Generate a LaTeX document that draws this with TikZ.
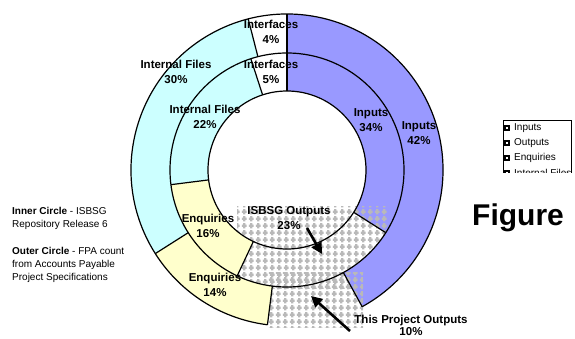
\documentclass[tikz,border=0pt]{standalone}
\usepackage{fontspec}
\setsansfont{Liberation Sans}
\RequirePackage{xcolor}
\definecolor{inputblue}{RGB}{153,153,255}
\definecolor{filecyan}{RGB}{204,255,255}
\definecolor{enqyellow}{RGB}{255,255,204}
\tikzset{every picture/.style={/utils/exec={\sffamily}}}
\usetikzlibrary{calc}
\usetikzlibrary{positioning}
\usetikzlibrary{arrows.meta,patterns}

\pgfdeclarepatternformonly{plusgrid}{\pgfqpoint{0pt}{0pt}}{\pgfqpoint{6.7pt}{6.7pt}}{\pgfqpoint{6.7pt}{6.7pt}}{%
  \pgfpathrectangle{\pgfqpoint{2.1pt}{0.6pt}}{\pgfqpoint{2.5pt}{5.5pt}}%
  \pgfpathrectangle{\pgfqpoint{0.85pt}{2.1pt}}{\pgfqpoint{5pt}{2.5pt}}%
  \pgfusepath{fill}}

\tikzset{
  part/.style={line width=1.2pt},
  inputs/.style={fill=inputblue},
  files/.style={fill=filecyan},
  enquiries/.style={fill=enqyellow},
  interfaces/.style={fill=white},
  outputs/.style={pattern=plusgrid, pattern color=gray!55},
  pct/.style={align=center, inner sep=1pt, font=\fontsize{11.5}{15}\selectfont\bfseries},
  pointer/.style={line width=2.6pt, -{Triangle[length=11pt,width=11pt]}},
  legtext/.style={anchor=west, inner sep=0pt, font=\fontsize{10}{12}\selectfont},
  legmark/.style={draw, line width=2pt, fill=white, minimum size=4pt, inner sep=0pt},
  note/.style={align=left, anchor=north west, inner sep=0pt, font=\fontsize{10}{13}\selectfont},
}

\begin{document}
\begin{tikzpicture}[x=1pt, y=1pt]
  % page is 575 x 338, ring centre sits at (287,170) from the top left
  \path [use as bounding box, fill=white] (-287,-168) rectangle (288,170);

  % inner ring: ISBSG
  \fill [inputs] (90:79) arc [start angle=90, end angle=-32.4, radius=79]
    -- (-32.4:117) arc [start angle=-32.4, end angle=90, radius=117] -- cycle;
  \fill [outputs] (-50,-36) rectangle (101,-118); % pattern fills the whole box
  \foreach \b/\kind [remember=\b as \a (initially -115.2)] in {-172.8/enquiries, -252/files, -270/interfaces} {
    \fill [\kind] (\a:79) arc [start angle=\a, end angle=\b, radius=79]
      -- (\b:117) arc [start angle=\b, end angle=\a, radius=117] -- cycle;
  }

  % outer ring: this project
  \fill [inputs] (90:117) arc [start angle=90, end angle=-61.2, radius=117]
    -- (-61.2:156) arc [start angle=-61.2, end angle=90, radius=156] -- cycle;
  \fill [outputs] (-20,-102) rectangle (76,-157);
  \foreach \b/\kind [remember=\b as \a (initially -97.2)] in {-147.6/enquiries, -255.6/files, -270/interfaces} {
    \fill [\kind] (\a:117) arc [start angle=\a, end angle=\b, radius=117]
      -- (\b:156) arc [start angle=\b, end angle=\a, radius=156] -- cycle;
  }

  % outlines
  \draw [part] (0,0) circle (79) (0,0) circle (117);
  \draw [part] (-61.2:156) arc [start angle=-61.2, end angle=262.8, radius=156];
  \foreach \t in {90, -32.4, -115.2, -172.8, -252} \draw [part] (\t:79) -- (\t:117);
  \foreach \t in {90, -61.2, -97.2, -147.6, -255.6} \draw [part] (\t:117) -- (\t:156);

  % labels
  \node [pct] (intout) at (-16,138) {Interfaces\\4\%};
  \node [pct] (intin) at (-16,98.5) {Interfaces\\5\%};
  \node [pct] (filout) at (-111,98.5) {Internal Files\\30\%};
  \node [pct] (filin) at (-82,53) {Internal Files\\22\%};
  \node [pct] (inpin) at (84,49.5) {Inputs\\34\%};
  \node [pct] (inpout) at (132,37) {Inputs\\42\%};
  \node [pct] (enqin) at (-79,-56) {Enquiries\\16\%};
  \node [pct] (enqout) at (-72,-115) {Enquiries\\14\%};
  \node [pct] (outin) at (2,-48) {ISBSG Outputs\\23\%};
  \node [pct, font=\fontsize{11.5}{12.5}\selectfont\bfseries] (outout) at (124,-155.5) {This Project Outputs\\10\%};

  \coordinate (isbsgtail) at (20,-58);
  \coordinate (isbsgtip) at (35,-84);
  \coordinate (projtail) at (63,-161);
  \coordinate (projtip) at (24,-126);
  \draw [pointer] (isbsgtail) -- (isbsgtip);
  \draw [pointer] (projtail) -- (projtip);

  % notes on the left
  \node [note] (innernote) at (-275,-37.5) {\textbf{Inner Circle} - ISBSG\\Repository Release 6};
  \node [note] (outernote) at (-275,-77.5) {\textbf{Outer Circle} - FPA count\\from Accounts Payable\\Project Specifications};

  \node [anchor=base west, inner sep=0pt, font=\fontsize{30}{30}\selectfont\bfseries] (figword) at (185,-55) {Figure};

  % legend, cut off at the bottom
  \begin{scope}
    \clip (215,52) rectangle (287,-2);
    \draw [line width=0.8pt] (216,-20) -- (216,50) -- (284,50) -- (284,-20);
    \foreach \name [count=\i] in {Inputs, Outputs, Enquiries, Internal Files} {
      \node [legmark] (mark\i) at (220,57-15*\i) {};
      \node [legtext, right=4pt of mark\i] (leg\i) {\name};
    }
  \end{scope}
\end{tikzpicture}
\end{document}
